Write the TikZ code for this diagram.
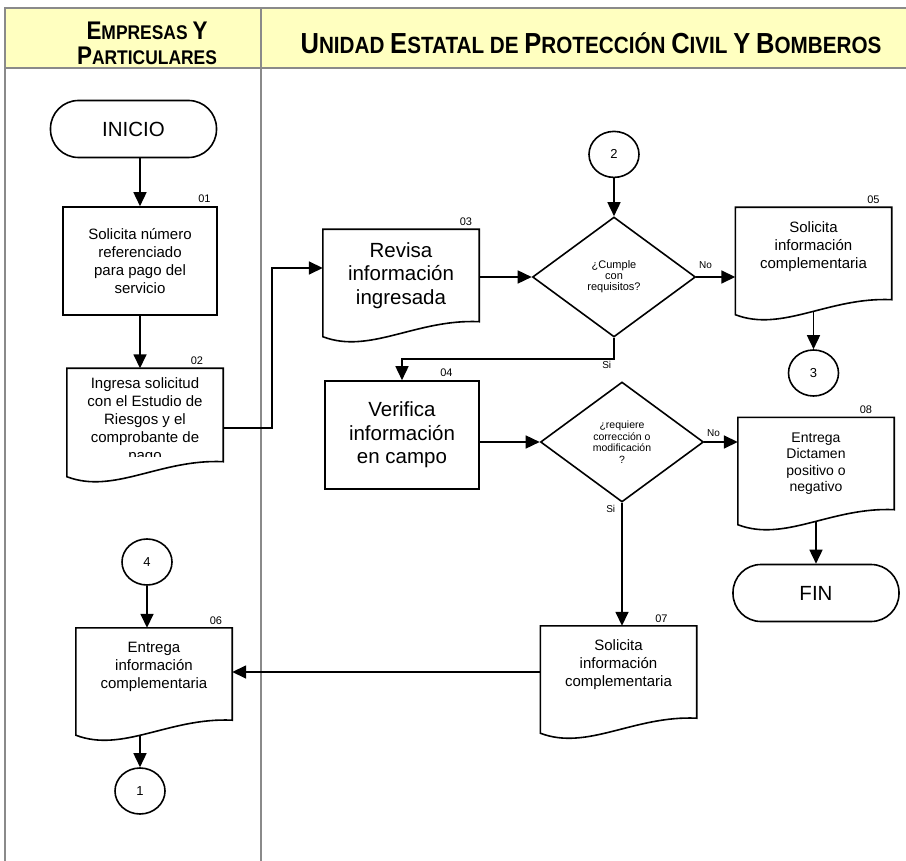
\documentclass[tikz,border=0pt]{standalone}
\usepackage{fontspec}
\setmainfont{Liberation Sans}
\newfontfamily\hdrfont[FakeStretch=0.88]{Liberation Sans}
\usetikzlibrary{arrows.meta,positioning,shapes.geometric,calc}
\tikzset{>/.tip={Triangle[length=14pt,width=13pt]}}
\definecolor{hdrfill}{HTML}{FFFFC0}
\definecolor{lanegray}{HTML}{8A8A8A}
\newcommand\hbig[2][25.5]{{\fontsize{#1}{#1}\selectfont #2}}
% document symbol: the node is the square part, the wavy bottom is added here
\newcommand\docshape[1]{%
  \draw[outline] (#1.south east) -- (#1.north east) -- (#1.north west)
    -- ([yshift=-15pt]#1.south west)
    .. controls ($(#1.south west)!0.3!(#1.south east)+(0,33)$)
    and ($(#1.south west)!0.6!(#1.south east)+(0,-3)$) .. (#1.south east) -- cycle;}
\tikzset{
  outline/.style={line width=1.6pt,line join=miter},
  hdr/.style={font=\hdrfont\bfseries\fontsize{19.8}{25}\selectfont,align=center,inner sep=0pt},
  process/.style={draw,outline,rectangle,minimum width=154pt,minimum height=108pt,
    align=center,font=\fontsize{15}{18}\selectfont},
  docbox/.style={rectangle,minimum width=156pt,minimum height=92pt,inner sep=2pt,
    align=center,font=\fontsize{15}{18}\selectfont},
  docup/.style={text depth=17pt},
  bigtext/.style={font=\fontsize{20.5}{23.5}\selectfont},
  terminal/.style={draw,outline,rectangle,rounded corners=28pt,minimum width=166pt,
    minimum height=57pt,font=\fontsize{20.5}{24}\selectfont},
  decision/.style={draw,outline,diamond,minimum width=163pt,minimum height=120pt,
    inner sep=0pt,align=center},
  linkpt/.style={draw,outline,ellipse,minimum width=50pt,minimum height=46pt,
    inner sep=0pt,font=\fontsize{13}{15}\selectfont},
  num/.style={font=\fontsize{11}{13}\selectfont,anchor=south east,inner sep=1pt,
    xshift=-6pt,yshift=2pt},
  lbl/.style={font=\fontsize{10}{12}\selectfont,inner sep=2pt},
  flow/.style={->,line width=1.6pt},
}

\begin{document}
\begin{tikzpicture}[x=1pt,y=-1pt]
\useasboundingbox (0,0) rectangle (906,861);
% swimlanes
\fill[hdrfill] (5,8) rectangle (906,68);
\draw[lanegray,line width=1.5pt] (906,8) -- (5,8) -- (5,861)
  (5,68) -- (906,68) (261,8) -- (261,861);
\node[hdr] (lane1) at (147,43) {\hbig{E}MPRESAS \hbig{Y}\\\hbig{P}ARTICULARES};
\node[hdr,font=\hdrfont\bfseries\fontsize{23.5}{25}\selectfont] (lane2) at (591,43)
  {\hbig[29]{U}NIDAD \hbig[29]{E}STATAL DE \hbig[29]{P}ROTECCIÓN \hbig[29]{C}IVIL
   \hbig[29]{Y} \hbig[29]{B}OMBEROS};

% left lane
\node[terminal] (ini) at (133.5,129) {INICIO};
\node[process,label={[num]north east:01}] (b01) at (140,261)
  {Solicita número\\referenciado\\para pago del\\servicio};
\begin{scope}
  \clip (60,340) rectangle (240,456);
  \node[docbox,text height=91pt,text depth=0pt,inner sep=1pt,
    label={[num,xshift=-13pt]north east:02}] (b02) at (145,415)
    {Ingresa solicitud\\con el Estudio de\\Riesgos y el\\comprobante de\\pago};
\end{scope}
\node[linkpt] (c4) at (147,562) {4};
\node[docbox,docup,label={[num,xshift=-3pt]north east:06}] (b06) at (154,674)
  {Entrega\\información\\complementaria};
\node[linkpt] (c1) at (140,791) {1};

% right lane
\node[docbox,bigtext,label={[num]north east:03}] (b03) at (401,275.5)
  {Revisa\\información\\ingresada};
\node[decision,font=\fontsize{11}{11}\selectfont] (d1) at (614,277)
  {¿Cumple\\con\\requisitos?};
\node[linkpt,above=38pt of d1] (c2) {2};
\node[docbox,docup,label={[num,xshift=-5pt]north east:05}] (b05) at (813.5,253.5)
  {Solicita\\información\\complementaria};
\node[linkpt,below=49.5pt of b05] (c3) {3};
\node[process,bigtext,label={[num,xshift=-20pt]north east:04}] (b04) at (402,435)
  {Verifica\\información\\en campo};
\node[decision,font=\fontsize{10.5}{11.5}\selectfont] (d2) at (622,442)
  {¿requiere\\corrección o\\modificación\\?};
\node[docbox,font=\fontsize{14}{16.5}\selectfont,
  label={[num,xshift=-15pt]north east:08}] (b08) at (816,463.5)
  {Entrega\\Dictamen\\positivo o\\negativo};
\node[terminal,below=54pt of b08] (fin) {FIN};
\node[docbox,docup,label={[num,xshift=-22pt]north east:07}] (b07) at (618.5,672)
  {Solicita\\información\\complementaria};

\docshape{b02}
\docshape{b03}
\docshape{b05}
\docshape{b06}
\docshape{b07}
\docshape{b08}

% connectors
\draw[flow] (b01 |- ini.south) -- (b01.north);
\draw[flow] (b01.south) -- (b01.south |- b02.north);
\draw[flow] ($(b02.east)+(0,13)$) -- ++(49,0) |- ($(b03.west)+(0,-7.5)$);
\draw[flow] (b03.east |- d1.west) -- (d1.west);
\draw[flow] (c2.south) -- (d1.north);
\draw[flow] (d1.east) -- (b05.west |- d1.east)
  node[lbl,pos=0,anchor=south west,yshift=6pt] {No};
\draw[flow] ($(c3 |- b05.south)+(0,12)$) -- (c3.north);
\draw[flow] (d1.south) -- ++(0,21) -| (b04.north)
  node[lbl,pos=0,anchor=north east] {Si};
\draw[flow] (b04.east |- d2.west) -- (d2.west);
\draw[flow] (d2.east) -- (b08.west |- d2.east)
  node[lbl,pos=0,anchor=south west,yshift=3pt] {No};
\draw[flow] ($(fin |- b08.south)+(0,12)$) -- (fin.north);
\draw[flow] (d2.south) -- (d2.south |- b07.north)
  node[lbl,pos=0,anchor=north east,xshift=-4pt] {Si};
\draw[flow] (b07.west) -- (b06.east |- b07.west);
\draw[flow] (c4.south) -- (c4.south |- b06.north);
\draw[flow] ($(c1 |- b06.south)+(0,15)$) -- (c1.north);
\end{tikzpicture}
\end{document}
